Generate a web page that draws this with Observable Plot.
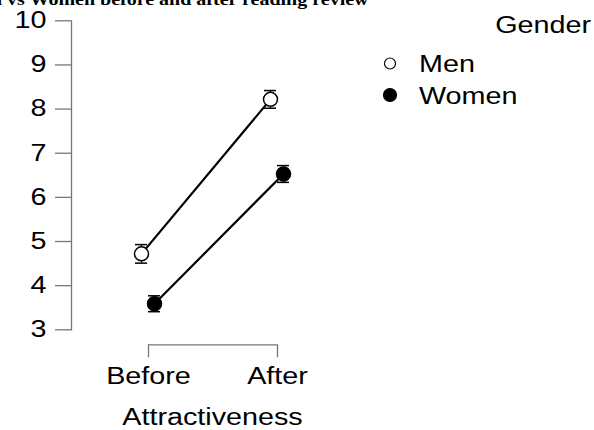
<!DOCTYPE html>
<html><head><meta charset="utf-8">
<script src="https://cdn.jsdelivr.net/npm/d3@7"></script>
<script src="https://cdn.jsdelivr.net/npm/@observablehq/plot@0.6"></script>
<style>html,body{margin:0;padding:0;background:#fff;overflow:hidden}svg{display:block}</style>
</head><body><div id="chart"></div>
<script>
const titleText = "Men vs Women before and after reading review";
const phases = ["Before", "After"];
const genders = ["Men", "Women"];
const menMeans = [4.72, 8.22];
const menErr = [0.21, 0.20];
const womenMeans = [3.59, 6.53];
const womenErr = [0.18, 0.19];
const yTicks = [3, 4, 5, 6, 7, 8, 9, 10];
const xLabel = "Attractiveness";
const legendTitle = "Gender";

const meansBy = {Men: menMeans, Women: womenMeans};
const errBy = {Men: menErr, Women: womenErr};
const rows = genders.flatMap(g => phases.map((p, i) => ({
  gender: g, phase: p, mean: meansBy[g][i],
  lo: meansBy[g][i] - errBy[g][i], hi: meansBy[g][i] + errBy[g][i]
})));

const dodge = {Men: -7, Women: 6};
const fills = {Men: "white", Women: "black"};
const FONT = 23, SX = 1.25, AXIS = "#777";

const marks = [];
for (const g of genders) {
  const data = rows.filter(d => d.gender === g);
  const dx = dodge[g];
  marks.push(Plot.line(data, {x: "phase", y: "mean", dx, stroke: "black", strokeWidth: 2.2}));
  marks.push(Plot.ruleX(data, {x: "phase", y1: "lo", y2: "hi", dx, stroke: "black", strokeWidth: 1.2}));
  marks.push(Plot.ruleY(data, {x1: "phase", x2: "phase", y: "lo", dx, insetLeft: -6, insetRight: -6, stroke: "black", strokeWidth: 1.5}));
  marks.push(Plot.ruleY(data, {x1: "phase", x2: "phase", y: "hi", dx, insetLeft: -6, insetRight: -6, stroke: "black", strokeWidth: 1.5}));
  marks.push(Plot.dot(data, {x: "phase", y: "mean", dx, r: 7, fill: fills[g], stroke: "black", strokeWidth: 1.5}));
}

const plot = Plot.plot({
  width: 594,
  height: 430,
  marginTop: 20.3,
  marginBottom: 100.7,
  marginLeft: 71,
  marginRight: 241,
  style: {fontFamily: "'Liberation Sans', Arial, sans-serif", background: "white", color: "black"},
  x: {type: "point", domain: phases, range: [147.3, 276.7], padding: 0, axis: null},
  y: {domain: [yTicks[0], yTicks[yTicks.length - 1]], axis: null},
  marks: [
    Plot.frame({anchor: "left", stroke: AXIS, strokeWidth: 1.3}),
    Plot.axisY(yTicks, {anchor: "left", tickSize: 16, tickPadding: 9, fontSize: FONT, stroke: AXIS, fill: "black", label: null, strokeWidth: 1.3}),
    Plot.axisX(phases, {anchor: "bottom", tickSize: 13, tickPadding: 10, dy: 15, fontSize: FONT, stroke: AXIS, fill: "black", label: null, strokeWidth: 1.3}),
    Plot.ruleY([yTicks[0]], {x1: () => phases[0], x2: () => phases[1], dy: 15, stroke: AXIS, strokeWidth: 1.3}),
    Plot.text([xLabel], {text: d => d, frameAnchor: "bottom", lineAnchor: "bottom", dy: 94.7, fontSize: FONT, fill: "black"}),
    Plot.text([titleText], {text: d => d, frameAnchor: "top-left", textAnchor: "end", lineAnchor: "bottom", dx: 297, dy: -16, fontSize: 16, fontWeight: "bold", fontFamily: "'Liberation Serif', 'Times New Roman', serif", fill: "black"}),
    ...marks
  ]
});

const svg = d3.select(plot);
// legend
const lg = svg.append("g").attr("aria-label", "legend");
lg.append("text").attr("transform", "translate(591,33)").attr("text-anchor", "end")
  .attr("font-size", FONT).attr("fill", "black").text(legendTitle);
const legendY = [63.5, 95];
const legendR = [5.5, 6.5];
genders.forEach((g, i) => {
  lg.append("circle").attr("cx", 390).attr("cy", legendY[i]).attr("r", legendR[i])
    .attr("fill", fills[g]).attr("stroke", "black").attr("stroke-width", 1.2);
  lg.append("text").attr("transform", `translate(419,${legendY[i] + 8.5})`)
    .attr("text-anchor", "start")
    .attr("font-size", FONT).attr("fill", "black").text(g);
});
// horizontally widened lettering, as in the reference
svg.selectAll("text").each(function () {
  const t = this.getAttribute("transform") || "";
  this.setAttribute("transform", `${t} scale(${SX},1)`);
});
document.getElementById("chart").appendChild(plot);
</script>
</body></html>
